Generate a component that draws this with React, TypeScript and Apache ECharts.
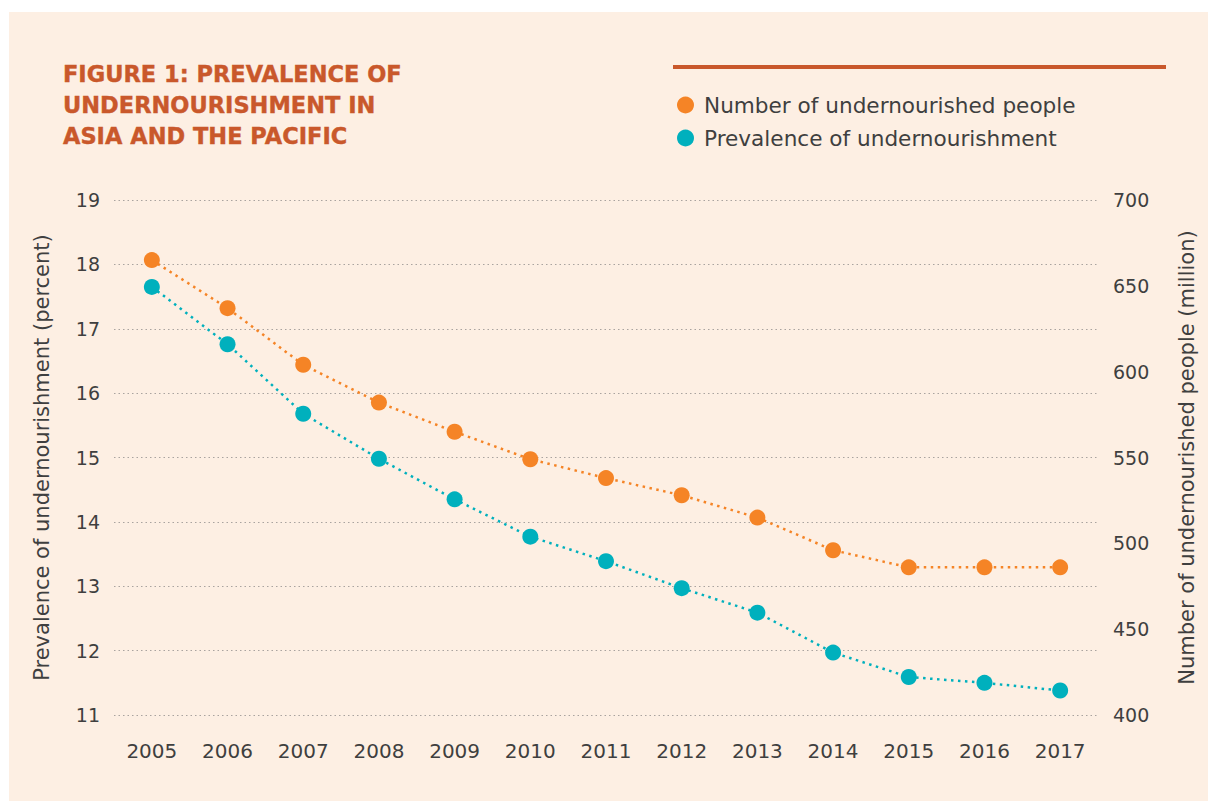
import React, { useEffect, useRef } from "react";
import * as echarts from "echarts";

const years = ["2005", "2006", "2007", "2008", "2009", "2010", "2011", "2012", "2013", "2014", "2015", "2016", "2017"];
const numberUndernourished = [665, 637, 604, 582, 565, 549, 538, 528, 515, 496, 486, 486, 486];
const prevalence = [17.65, 16.76, 15.68, 14.98, 14.35, 13.77, 13.39, 12.97, 12.59, 11.97, 11.59, 11.5, 11.38];

const titleText = "FIGURE 1: PREVALENCE OF\nUNDERNOURISHMENT IN\nASIA AND THE PACIFIC";
const seriesNames = ["Number of undernourished people", "Prevalence of undernourishment"];
const leftAxisName = "Prevalence of undernourishment (percent)";
const rightAxisName = "Number of undernourished people (million)";

const ORANGE = "#f58426";
const TEAL = "#00b0bd";
const TITLE = "#c9582b";
const TEXT = "#3f3f3f";
const BG = "#fdefe3";
const FONT = "'DejaVu Sans', sans-serif";

export default function App() {
  const ref = useRef<HTMLDivElement>(null);
  useEffect(() => {
    if (!ref.current) return;
    const chart = echarts.init(ref.current, null, { renderer: "svg" });
    chart.setOption({
      animation: false,
      backgroundColor: "#ffffff",
      textStyle: { fontFamily: FONT },
      graphic: [
        { type: "rect", z: -10, shape: { x: 9, y: 12, width: 1199, height: 789 }, style: { fill: BG } },
        { type: "rect", z: 1, shape: { x: 673, y: 65, width: 493, height: 4 }, style: { fill: TITLE } },
      ],
      title: {
        text: titleText,
        left: 58,
        top: 53,
        textStyle: {
          fontFamily: FONT,
          fontWeight: "bold",
          fontSize: 22.5,
          lineHeight: 31,
          color: TITLE,
          textBorderColor: TITLE,
          textBorderWidth: 0.4,
        },
      },
      legend: {
        orient: "vertical",
        left: 672,
        top: 89,
        itemWidth: 17,
        itemHeight: 17,
        itemGap: 11,
        icon: "circle",
        textStyle: { fontFamily: FONT, fontSize: 21.6, color: TEXT, padding: [0, 0, 0, 5] },
        data: seriesNames,
      },
      grid: { left: 114, right: 110, top: 200, bottom: 86, containLabel: false },
      xAxis: {
        type: "category",
        data: years,
        boundaryGap: true,
        axisLine: { show: false },
        axisTick: { show: false },
        axisLabel: { color: TEXT, fontSize: 20, margin: 26, fontFamily: FONT },
      },
      yAxis: [
        {
          type: "value",
          min: 11,
          max: 19,
          interval: 1,
          name: leftAxisName,
          nameLocation: "middle",
          nameGap: 62,
          nameRotate: 90,
          nameTextStyle: { color: TEXT, fontSize: 21, fontFamily: FONT },
          axisLine: { show: false },
          axisTick: { show: false },
          axisLabel: { color: TEXT, fontSize: 19, margin: 14, fontFamily: FONT },
          splitLine: { show: true, lineStyle: { color: "#a9a39f", type: [1.5, 3], width: 1 } },
        },
        {
          type: "value",
          min: 400,
          max: 700,
          interval: 50,
          name: rightAxisName,
          nameLocation: "middle",
          nameGap: 78,
          nameRotate: 90,
          nameTextStyle: { color: TEXT, fontSize: 21, fontFamily: FONT },
          axisLine: { show: false },
          axisTick: { show: false },
          axisLabel: { color: TEXT, fontSize: 19, margin: 15, fontFamily: FONT },
          splitLine: { show: false },
        },
      ],
      series: [
        {
          name: seriesNames[0],
          type: "line",
          yAxisIndex: 1,
          data: numberUndernourished,
          symbol: "circle",
          symbolSize: 16,
          itemStyle: { color: ORANGE },
          lineStyle: { color: ORANGE, width: 2.5, type: [2.5, 4.5] },
          z: 3,
        },
        {
          name: seriesNames[1],
          type: "line",
          yAxisIndex: 0,
          data: prevalence,
          symbol: "circle",
          symbolSize: 16,
          itemStyle: { color: TEAL },
          lineStyle: { color: TEAL, width: 2.5, type: [2.5, 4.5] },
          z: 3,
        },
      ],
    });
    return () => chart.dispose();
  }, []);
  return <div ref={ref} style={{ position: "fixed", left: 0, top: 0, width: 1208, height: 801 }} />;
}
